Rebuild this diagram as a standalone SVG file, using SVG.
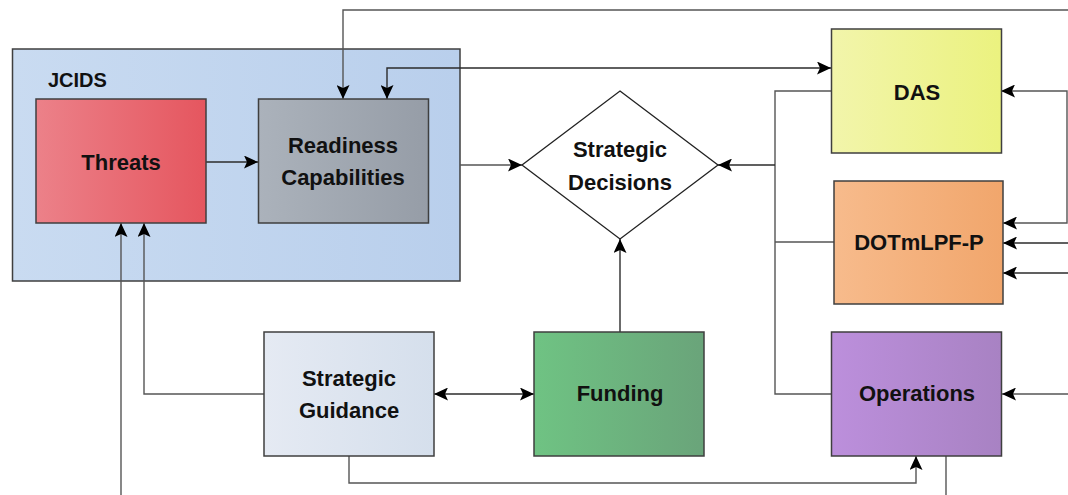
<svg xmlns="http://www.w3.org/2000/svg" width="1068" height="495" viewBox="0 0 1068 495">
<defs>
<style>
.box{stroke:#3f3f3f;stroke-width:1.5}
.t{font-family:"Liberation Sans",Arial,sans-serif;font-weight:bold;font-size:22px;fill:#111;text-anchor:middle}
.c{fill:none;stroke:#2b2b2b;stroke-width:1.4}
.g{fill:none;stroke:#555;stroke-width:1.4}
</style>
<marker id="a" viewBox="0 0 14 13" refX="14" refY="6.5" markerWidth="14" markerHeight="13" markerUnits="userSpaceOnUse" orient="auto-start-reverse">
<path d="M0,0 L14,6.5 L0,13 L3,6.5 z" fill="#000"/>
</marker>
<linearGradient id="gJ" x1="0" x2="1" y1="0" y2="0"><stop offset="0" stop-color="#c9dbf1"/><stop offset="1" stop-color="#b9cfec"/></linearGradient>
<linearGradient id="gT" x1="0" x2="1" y1="0" y2="0"><stop offset="0" stop-color="#ec8189"/><stop offset="1" stop-color="#e5565f"/></linearGradient>
<linearGradient id="gR" x1="0" x2="1" y1="0" y2="0"><stop offset="0" stop-color="#abb2bb"/><stop offset="1" stop-color="#969da7"/></linearGradient>
<linearGradient id="gD" x1="0" x2="1" y1="0" y2="0"><stop offset="0" stop-color="#f2f5ab"/><stop offset="1" stop-color="#ebf27f"/></linearGradient>
<linearGradient id="gO" x1="0" x2="1" y1="0" y2="0"><stop offset="0" stop-color="#f7bb8c"/><stop offset="1" stop-color="#f1a66c"/></linearGradient>
<linearGradient id="gP" x1="0" x2="1" y1="0" y2="0"><stop offset="0" stop-color="#bc8fdc"/><stop offset="1" stop-color="#a882c3"/></linearGradient>
<linearGradient id="gS" x1="0" x2="1" y1="0" y2="0"><stop offset="0" stop-color="#e5eaf3"/><stop offset="1" stop-color="#d5dfec"/></linearGradient>
<linearGradient id="gF" x1="0" x2="1" y1="0" y2="0"><stop offset="0" stop-color="#6fc383"/><stop offset="1" stop-color="#6aa47a"/></linearGradient>
</defs>
<rect width="1068" height="495" fill="#fff"/>

<g id="jcids">
<rect class="box" x="12.5" y="49" width="447.5" height="232" fill="url(#gJ)"/>
<text class="t" x="48" y="87" style="text-anchor:start;font-size:20px">JCIDS</text>
</g>

<g id="connectors">
<path class="g" d="M1068,10 H343 V99" marker-end="url(#a)"/>
<path class="c" d="M387,99 V68 H831" marker-start="url(#a)" marker-end="url(#a)"/>
<path class="c" d="M206,162 H258" marker-end="url(#a)"/>
<path class="g" d="M460,165 H522" marker-end="url(#a)"/>
<path class="g" d="M831,91 H775 V394 H831 M834,242 H775"/>
<path class="c" d="M775,165 H718" marker-end="url(#a)"/>
<path class="c" d="M620,332 V239" marker-end="url(#a)"/>
<path class="c" d="M434,394 H534" marker-start="url(#a)" marker-end="url(#a)"/>
<path class="g" d="M264,394 H144 V223" marker-end="url(#a)"/>
<path class="g" d="M121,495 V223" marker-end="url(#a)"/>
<path class="g" d="M349,456 V483 H916 V456" marker-end="url(#a)"/>
<path class="g" d="M946,456 V495"/>
<path class="g" d="M1001,91 H1067 V223 H1003" marker-start="url(#a)" marker-end="url(#a)"/>
<path class="c" d="M1068,243 H1003" marker-end="url(#a)"/>
<path class="c" d="M1068,273 H1003" marker-end="url(#a)"/>
<path class="g" d="M1068,394 H1002" marker-end="url(#a)"/>
</g>

<g id="threats">
<rect class="box" x="36" y="99" width="170" height="124" fill="url(#gT)"/>
<text class="t" x="121" y="170">Threats</text>
</g>

<g id="readiness">
<rect class="box" x="258.5" y="99" width="170" height="124" fill="url(#gR)"/>
<text class="t" x="343" y="153">Readiness</text>
<text class="t" x="343" y="185">Capabilities</text>
</g>

<g id="decisions">
<path d="M620,91 L718,165 L620,239 L522,165 Z" fill="#fff" stroke="#222" stroke-width="1.3"/>
<text class="t" x="620" y="157">Strategic</text>
<text class="t" x="620" y="190">Decisions</text>
</g>

<g id="das">
<rect class="box" x="831.5" y="29" width="170" height="124" fill="url(#gD)"/>
<text class="t" x="917" y="100">DAS</text>
</g>

<g id="dotmlpf">
<rect class="box" x="834" y="181" width="169" height="123" fill="url(#gO)"/>
<text class="t" x="919" y="250">DOTmLPF-P</text>
</g>

<g id="operations">
<rect class="box" x="831.5" y="332" width="170" height="124" fill="url(#gP)"/>
<text class="t" x="917" y="401">Operations</text>
</g>

<g id="guidance">
<rect class="box" x="264" y="332" width="170" height="124" fill="url(#gS)"/>
<text class="t" x="349" y="386">Strategic</text>
<text class="t" x="349" y="418">Guidance</text>
</g>

<g id="funding">
<rect class="box" x="534" y="332" width="170" height="124" fill="url(#gF)"/>
<text class="t" x="620" y="401">Funding</text>
</g>
</svg>
